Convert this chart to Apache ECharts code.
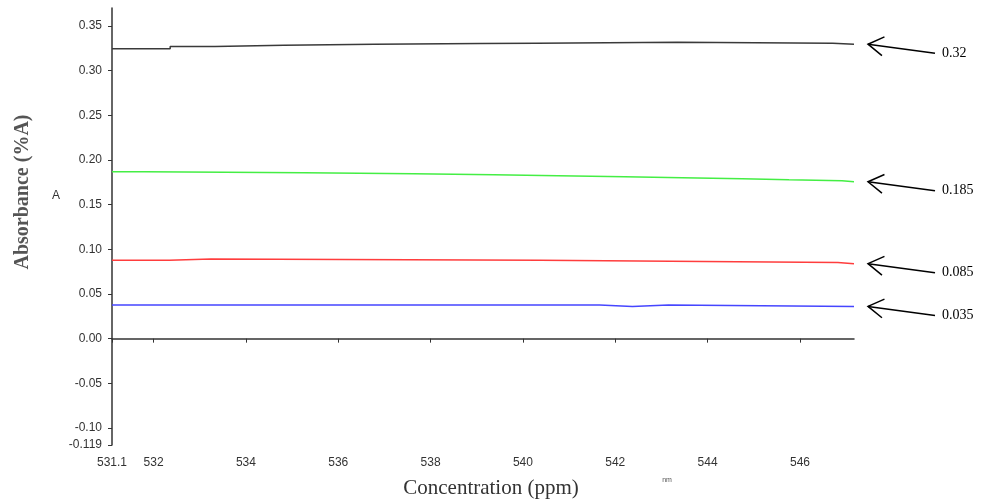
<!DOCTYPE html>
<html>
<head>
<meta charset="utf-8">
<script src="https://cdn.jsdelivr.net/npm/echarts@6/dist/echarts.min.js"></script>
<style>
  html, body { margin: 0; padding: 0; background: #fff; }
  #chart { width: 987px; height: 501px; }
</style>
</head>
<body>
<div id="chart"></div>
<script>
// data (step-wise traces)
var blackX = [531.1, 532.36, 533.33, 534.82, 536.78, 539.09, 540.30, 543.35, 546.71, 547.17];
var blackY = [0.3243, 0.3268, 0.3284, 0.3295, 0.3302, 0.3306, 0.3317, 0.3306, 0.3295, 0.3295];
var greenX = [531.1, 531.80, 535.27, 537.63, 539.37, 540.76, 542.20, 543.45, 544.75, 545.76, 546.91, 547.17];
var greenY = [0.1867, 0.1856, 0.1845, 0.1834, 0.1823, 0.1811, 0.1800, 0.1789, 0.1778, 0.1767, 0.1756, 0.1756];
var redX = [531.1, 532.34, 533.24, 540.37, 543.91, 546.82, 547.17];
var redY = [0.0876, 0.0891, 0.0876, 0.0864, 0.0853, 0.0839, 0.0839];
var blueX = [531.1, 541.66, 542.37, 543.15, 547.17];
var blueY = [0.0377, 0.0361, 0.0377, 0.0361, 0.0361];

var xTicks = [531.1, 532, 534, 536, 538, 540, 542, 544, 546];
var yTicks = [-0.119, -0.10, -0.05, 0, 0.05, 0.10, 0.15, 0.20, 0.25, 0.30, 0.35];
var annotLabels = ['0.32', '0.185', '0.085', '0.035'];

var xMin = 531.1, xMax = 547.17;

function pairs(xs, ys) {
    var out = [];
    for (var i = 0; i < xs.length; i++) out.push([xs[i], ys[i]]);
    return out;
}

var lineDefs = [
    { x: blackX, y: blackY, color: '#3a3a3a' },
    { x: greenX, y: greenY, color: '#44ee44' },
    { x: redX, y: redY, color: '#ff3d3d' },
    { x: blueX, y: blueY, color: '#4646ff' }
];

var myChart = echarts.init(document.getElementById('chart'));

var option = {
    backgroundColor: '#fff',
    animation: false,
    grid: { left: 112, right: 133, top: 8, bottom: 56 },
    xAxis: {
        type: 'value',
        min: xMin,
        max: xMax,
        axisLine: { lineStyle: { color: '#333', width: 1.5 } },
        axisTick: { show: true, length: 4, customValues: xTicks, lineStyle: { color: '#333' } },
        axisLabel: {
            customValues: xTicks,
            color: '#333',
            fontFamily: 'Liberation Sans',
            fontSize: 12,
            margin: 12,
            formatter: function (v) { return String(v); }
        },
        splitLine: { show: false }
    },
    yAxis: {
        type: 'value',
        min: -0.119,
        max: 0.37,
        axisLine: { show: true, lineStyle: { color: '#333', width: 1.5 } },
        axisTick: { show: true, length: 4, customValues: yTicks, lineStyle: { color: '#333' } },
        axisLabel: {
            customValues: yTicks,
            color: '#333',
            fontFamily: 'Liberation Sans',
            fontSize: 12,
            margin: 10,
            formatter: function (v) {
                if (Math.abs(v + 0.119) < 1e-9) return '-0.119';
                return v.toFixed(2);
            }
        },
        splitLine: { show: false }
    },
    series: lineDefs.map(function (d) {
        return {
            type: 'line',
            step: 'end',
            showSymbol: false,
            data: pairs(d.x, d.y),
            lineStyle: { color: d.color, width: 1.5 },
            itemStyle: { color: d.color }
        };
    })
};
myChart.setOption(option);

// annotations: arrows pointing at the end of each trace
var graphics = [];
lineDefs.forEach(function (d, i) {
    var endVal = d.y[d.y.length - 1];
    var p = myChart.convertToPixel({ gridIndex: 0 }, [xMax, endVal]);
    var tip = [p[0] + 14, p[1]];
    var tail = [tip[0] + 67, tip[1] + 9];
    var ang = Math.atan2(tail[1] - tip[1], tail[0] - tip[0]);
    var hl = 18, spread = 0.55;
    var h1 = [tip[0] + hl * Math.cos(ang - spread), tip[1] + hl * Math.sin(ang - spread)];
    var h2 = [tip[0] + hl * Math.cos(ang + spread), tip[1] + hl * Math.sin(ang + spread)];
    graphics.push({
        type: 'polyline', shape: { points: [tip, tail] },
        style: { stroke: '#000', lineWidth: 1.5, fill: null }
    });
    graphics.push({
        type: 'polyline', shape: { points: [h1, tip, h2] },
        style: { stroke: '#000', lineWidth: 1.5, fill: null }
    });
    graphics.push({
        type: 'text', x: tail[0] + 7, y: tail[1],
        style: {
            text: annotLabels[i], fill: '#000', font: '14px "Liberation Serif"',
            verticalAlign: 'middle', align: 'left'
        }
    });
});

// axis titles and stray marks
graphics.push({
    type: 'text', x: 23, y: 192, rotation: Math.PI / 2,
    style: {
        text: 'Absorbance (%A)', fill: '#555', font: 'bold 20px "Liberation Serif"',
        align: 'center', verticalAlign: 'middle'
    }
});
graphics.push({
    type: 'text', x: 56, y: 196,
    style: { text: 'A', fill: '#333', font: '12px "Liberation Sans"', align: 'center', verticalAlign: 'middle' }
});
graphics.push({
    type: 'text', x: 491, y: 488,
    style: {
        text: 'Concentration (ppm)', fill: '#333', font: '21px "Liberation Serif"',
        align: 'center', verticalAlign: 'middle'
    }
});
graphics.push({
    type: 'text', x: 667, y: 480,
    style: { text: 'nm', fill: '#555', font: '7px "Liberation Sans"', align: 'center', verticalAlign: 'middle' }
});

myChart.setOption({ graphic: graphics });
</script>
</body>
</html>
